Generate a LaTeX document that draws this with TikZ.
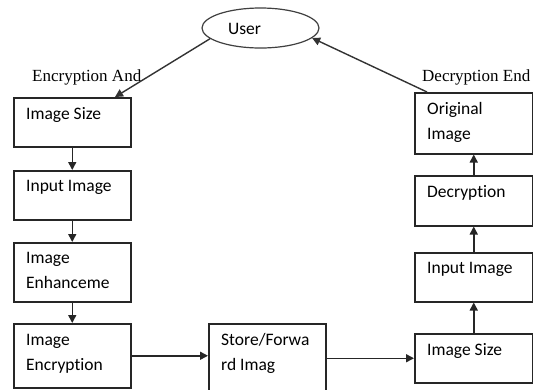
\documentclass[tikz,border=0pt]{standalone}
\usepackage{fontspec}
\setmainfont{Carlito}[Ligatures=NoCommon]
\newfontfamily\serifl{Liberation Serif}
\usetikzlibrary{arrows.meta,calc,shapes.geometric}
\begin{document}
\begin{tikzpicture}[x=1pt,y=-1pt,
  box/.style={draw=black!85,line width=1.5pt,anchor=north west,inner sep=0pt,minimum width=117pt},
  txt/.style={anchor=north west,inner sep=0pt,align=left,font={\fontsize{17.5}{25}\selectfont},text=black},
  lbl/.style={anchor=base west,inner sep=0pt,font={\serifl\fontsize{17}{20}\selectfont},text=black},
  arr/.style={draw=black!85,line width=1.5pt,-{Triangle[length=8pt,width=8pt]}},
  ln/.style={draw=black!80,line width=1.4pt,-{Triangle[length=8pt,width=8pt]}}]
\useasboundingbox (0,0) rectangle (533,389);
\fill[white] (0,0) rectangle (533,389);

% user ellipse
\node[ellipse,draw=black!75,line width=1.2pt,minimum width=117pt,minimum height=40pt,inner sep=0pt] (User) at (260.5,28) {};
\node[txt,anchor=center] (usertxt) at (244.5,29) {User};

% left column
\node[box,minimum height=49pt] (L1) at (13,97) {};
\node[box,minimum height=49pt] (L2) at (13,170) {};
\node[box,minimum height=59pt] (L3) at (13,242) {};
\node[box,minimum height=64pt] (L4) at (13,323) {};
% middle
\node[box,minimum height=75pt,minimum width=117pt] (S) at (208,323) {};
% right column
\node[box,minimum height=49pt,minimum width=118pt] (R1) at (414,333) {};
\node[box,minimum height=49pt,minimum width=118pt] (R2) at (414,252) {};
\node[box,minimum height=50pt,minimum width=118pt] (R3) at (414,175) {};
\node[box,minimum height=61pt,minimum width=118pt] (R4) at (414,92) {};

% texts
\node[txt] (t1) at ($(L1.north west)+(13,10)$) {Image Size};
\node[txt] (t2) at ($(L2.north west)+(13,10)$) {Input Image};
\node[txt] (t3) at ($(L3.north west)+(13,10)$) {Image\\Enhanceme};
\node[txt] (t4) at ($(L4.north west)+(13,11)$) {Image\\Encryption};
\node[txt] (t5) at ($(S.north west)+(13,10)$) {Store/Forwa\\rd Imag};
\node[txt] (t6) at ($(R1.north west)+(13,10)$) {Image Size};
\node[txt] (t7) at ($(R2.north west)+(13,10)$) {Input Image};
\node[txt] (t8) at ($(R3.north west)+(13,10)$) {Decryption};
\node[txt] (t9) at ($(R4.north west)+(13,10)$) {Original\\Image};

% side labels
\node[lbl] (encl) at (32,81) {Encryption And};
\node[lbl] (decl) at (422,81) {Decryption End};

% connectors
\coordinate (tipL) at ($(L1.north west)+(102,0)$);
\coordinate (srcR) at ($(R4.north west)+(13,0)$);
\draw[ln] (User.192) -- (tipL);
\draw[ln] (srcR) -- (User.349);

\draw[arr] (L1.south) -- (L2.north);
\draw[arr] (L2.south) -- (L3.north);
\draw[arr] (L3.south) -- (L4.north);
\draw[arr] (L4.east) -- (L4.east -| S.west);
\draw[arr] (S.east |- R1.west) -- (R1.west);
\draw[arr] (R1.north) -- (R2.south);
\draw[arr] (R2.north) -- (R3.south);
\draw[arr] (R3.north) -- (R4.south);
\end{tikzpicture}
\end{document}
